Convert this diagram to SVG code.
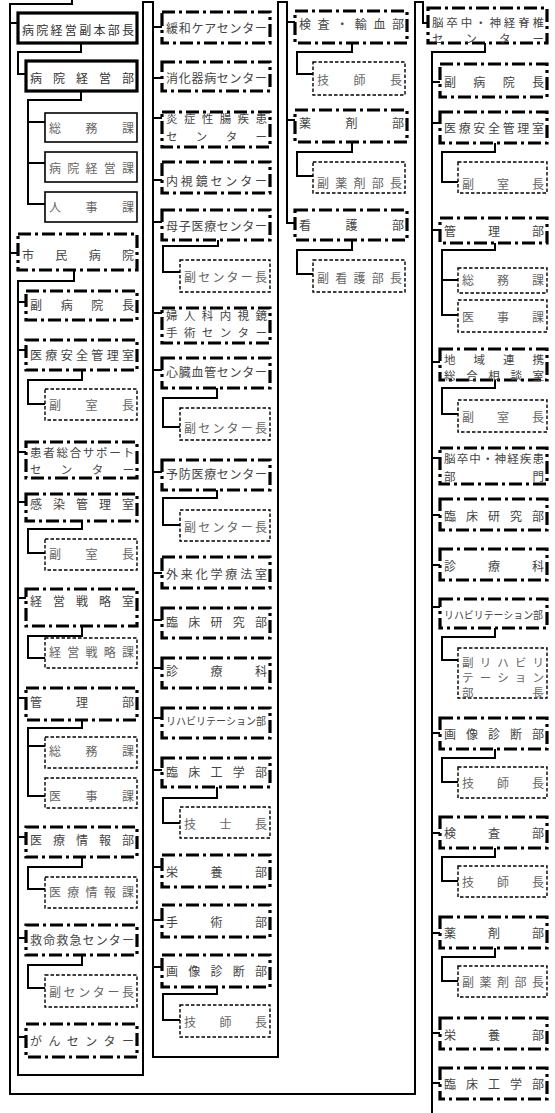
<svg xmlns="http://www.w3.org/2000/svg" width="555" height="1113" viewBox="0 0 555 1113">
<style>
.ln{fill:none;stroke:#000;stroke-width:2}
.tk{fill:#fff;stroke:#000;stroke-width:3.2}
.so{fill:#fff;stroke:#000;stroke-width:1.6}
.dd{fill:#fff;stroke:#000;stroke-width:3.2;stroke-dasharray:13 4 3 4}
.ds{fill:#fff;stroke:#000;stroke-width:1.4;stroke-dasharray:3.5 2}
text{font-family:"Noto Sans CJK JP","Noto Sans CJK SC",sans-serif;font-size:12px;fill:#444;dominant-baseline:central}
.sub text{fill:#666}
.nar{font-size:10.5px}
.ml{font-size:11.5px}
</style>
<rect width="555" height="1113" fill="#fff"/>
<g id="connectors" class="ln">
<path d="M72,0V4H10V1094H415V2H423V23H428"/>
<path d="M10,23H18M10,253H18"/>
<path d="M81,43V52H18V74H26"/>
<path d="M81,91V100H28V204H45M28,122H45M28,163H45"/>
<path d="M74,270V281H18V1075H143V2H153V1057H278V2H287V223H295"/>
<path d="M18,302H26M18,350H26M18,452H26M18,502H26M18,598H26M18,698H26M18,837H26M18,938H26M18,1037H26"/>
<path d="M82,370V380H28V404H45"/>
<path d="M82,521V529H28V553H45"/>
<path d="M82,626V636H28V658H45"/>
<path d="M82,720V728H28V796H45M28,746H45"/>
<path d="M82,857V867H28V889H45"/>
<path d="M82,955V965H28V988H45"/>
<path d="M153,27H162M153,78H162M153,118H162M153,180H162M153,222H162M153,313H162M153,370H162M153,472H162M153,573H162M153,620H162M153,668H162M153,718H162M153,770H162M153,867H162M153,920H162M153,967H162"/>
<path d="M218,240V246H163V272H180"/>
<path d="M217,388V398H163V427H180"/>
<path d="M217,490V498H163V525H180"/>
<path d="M217,787V798H163V823H180"/>
<path d="M217,987V994H163V1020H180"/>
<path d="M287,22H295M287,120H295"/>
<path d="M352,43V52H297V74H313"/>
<path d="M352,142V152H297V176H313"/>
<path d="M352,240V250H297V274H313"/>
<path d="M485,43V52H432V1113"/>
<path d="M432,82H440M432,123H440M432,230H440M432,362H440M432,458H440M432,515H440M432,565H440M432,607H440M432,733H440M432,833H440M432,933H440M432,1033H440M432,1083H440"/>
<path d="M495,143V152H442V182H458"/>
<path d="M495,243V250H442V315H458M442,280H458"/>
<path d="M495,380V388H442V414H458"/>
<path d="M495,628V637H442V660H458"/>
<path d="M495,749V758H442V782H458"/>
<path d="M495,848V857H442V881H458"/>
<path d="M495,948V957H442V981H458"/>
</g>

<g id="n1"><rect class="tk" x="18" y="13" width="119" height="30"/><text x="22" y="29" textLength="112" lengthAdjust="spacing" style="fill:#333">病院経営副本部長</text></g>
<g id="n2"><rect class="tk" x="26" y="61" width="111" height="30"/><text x="30" y="77" textLength="104" lengthAdjust="spacing" style="fill:#333">病院経営部</text></g>
<g id="n3" class="sub"><rect class="so" x="45" y="113" width="92" height="29"/><text x="49" y="127" textLength="85" lengthAdjust="spacing">総務課</text></g>
<g id="n4" class="sub"><rect class="so" x="45" y="152" width="92" height="30"/><text x="49" y="167" textLength="85" lengthAdjust="spacing">病院経営課</text></g>
<g id="n5" class="sub"><rect class="so" x="45" y="192" width="92" height="30"/><text x="49" y="206" textLength="85" lengthAdjust="spacing">人事課</text></g>
<g id="n6"><rect class="dd" x="18" y="234" width="119" height="36"/><text x="22" y="254" textLength="112" lengthAdjust="spacing">市民病院</text></g>
<g id="n7"><rect class="dd" x="26" y="291" width="111" height="29"/><text x="30" y="304" textLength="104" lengthAdjust="spacing">副病院長</text></g>
<g id="n8"><rect class="dd" x="26" y="340" width="111" height="30"/><text x="30" y="354" textLength="104" lengthAdjust="spacing">医療安全管理室</text></g>
<g id="n9" class="sub"><rect class="ds" x="45" y="389" width="92" height="31"/><text x="49" y="404" textLength="85" lengthAdjust="spacing">副室長</text></g>
<g id="n10"><rect class="dd" x="26" y="442" width="111" height="36"/><text class="ml" x="30" y="452" textLength="104" lengthAdjust="spacing">患者総合サポート</text><text class="ml" x="30" y="469" textLength="104" lengthAdjust="spacing">センター</text></g>
<g id="n11"><rect class="dd" x="26" y="494" width="111" height="27"/><text x="30" y="503" textLength="104" lengthAdjust="spacing">感染管理室</text></g>
<g id="n12" class="sub"><rect class="ds" x="45" y="539" width="92" height="31"/><text x="49" y="553" textLength="85" lengthAdjust="spacing">副室長</text></g>
<g id="n13"><rect class="dd" x="26" y="589" width="111" height="37"/><text x="30" y="600" textLength="104" lengthAdjust="spacing">経営戦略室</text></g>
<g id="n14" class="sub"><rect class="ds" x="45" y="638" width="92" height="30"/><text x="49" y="651" textLength="85" lengthAdjust="spacing">経営戦略課</text></g>
<g id="n15"><rect class="dd" x="26" y="688" width="111" height="32"/><text x="30" y="701" textLength="104" lengthAdjust="spacing">管理部</text></g>
<g id="n16" class="sub"><rect class="ds" x="45" y="737" width="92" height="31"/><text x="49" y="750" textLength="85" lengthAdjust="spacing">総務課</text></g>
<g id="n17" class="sub"><rect class="ds" x="45" y="778" width="92" height="30"/><text x="49" y="795" textLength="85" lengthAdjust="spacing">医事課</text></g>
<g id="n18"><rect class="dd" x="26" y="827" width="111" height="30"/><text x="30" y="839" textLength="104" lengthAdjust="spacing">医療情報部</text></g>
<g id="n19" class="sub"><rect class="ds" x="45" y="877" width="92" height="31"/><text x="49" y="891" textLength="85" lengthAdjust="spacing">医療情報課</text></g>
<g id="n20"><rect class="dd" x="26" y="925" width="111" height="30"/><text x="30" y="939" textLength="104" lengthAdjust="spacing">救命救急センター</text></g>
<g id="n21" class="sub"><rect class="ds" x="45" y="975" width="92" height="32"/><text x="49" y="991" textLength="85" lengthAdjust="spacing">副センター長</text></g>
<g id="n22"><rect class="dd" x="26" y="1024" width="111" height="33"/><text x="30" y="1040" textLength="104" lengthAdjust="spacing">がんセンター</text></g>

<g id="c1"><rect class="dd" x="162" y="12" width="108" height="31"/><text x="166" y="27" textLength="101" lengthAdjust="spacing">緩和ケアセンター</text></g>
<g id="c2"><rect class="dd" x="162" y="62" width="108" height="29"/><text x="166" y="77" textLength="101" lengthAdjust="spacing">消化器病センター</text></g>
<g id="c3"><rect class="dd" x="162" y="112" width="108" height="35"/><text class="ml" x="166" y="118" textLength="101" lengthAdjust="spacing">炎症性腸疾患</text><text class="ml" x="166" y="136" textLength="101" lengthAdjust="spacing">センター</text></g>
<g id="c4"><rect class="dd" x="162" y="162" width="108" height="31"/><text x="166" y="180" textLength="101" lengthAdjust="spacing">内視鏡センター</text></g>
<g id="c5"><rect class="dd" x="162" y="210" width="108" height="30"/><text x="166" y="225" textLength="101" lengthAdjust="spacing">母子医療センター</text></g>
<g id="c6" class="sub"><rect class="ds" x="180" y="260" width="90" height="32"/><text x="184" y="276" textLength="83" lengthAdjust="spacing">副センター長</text></g>
<g id="c7"><rect class="dd" x="162" y="308" width="108" height="35"/><text class="ml" x="166" y="315" textLength="101" lengthAdjust="spacing">婦人科内視鏡</text><text class="ml" x="166" y="332" textLength="101" lengthAdjust="spacing">手術センター</text></g>
<g id="c8"><rect class="dd" x="162" y="358" width="108" height="30"/><text x="166" y="371" textLength="101" lengthAdjust="spacing">心臓血管センター</text></g>
<g id="c9" class="sub"><rect class="ds" x="180" y="408" width="90" height="32"/><text x="184" y="427" textLength="83" lengthAdjust="spacing">副センター長</text></g>
<g id="c10"><rect class="dd" x="162" y="460" width="108" height="30"/><text x="166" y="473" textLength="101" lengthAdjust="spacing">予防医療センター</text></g>
<g id="c11" class="sub"><rect class="ds" x="180" y="510" width="90" height="31"/><text x="184" y="526" textLength="83" lengthAdjust="spacing">副センター長</text></g>
<g id="c12"><rect class="dd" x="162" y="557" width="108" height="31"/><text x="166" y="573" textLength="101" lengthAdjust="spacing">外来化学療法室</text></g>
<g id="c13"><rect class="dd" x="162" y="608" width="108" height="30"/><text x="166" y="621" textLength="101" lengthAdjust="spacing">臨床研究部</text></g>
<g id="c14"><rect class="dd" x="162" y="658" width="108" height="30"/><text x="166" y="670" textLength="101" lengthAdjust="spacing">診療科</text></g>
<g id="c15"><rect class="dd" x="162" y="708" width="108" height="30"/><text class="nar" x="166" y="720" textLength="100" lengthAdjust="spacingAndGlyphs">リハビリテーション部</text></g>
<g id="c16"><rect class="dd" x="162" y="758" width="108" height="29"/><text x="166" y="771" textLength="101" lengthAdjust="spacing">臨床工学部</text></g>
<g id="c17" class="sub"><rect class="ds" x="180" y="807" width="90" height="31"/><text x="184" y="823" textLength="83" lengthAdjust="spacing">技士長</text></g>
<g id="c18"><rect class="dd" x="162" y="855" width="108" height="32"/><text x="166" y="871" textLength="101" lengthAdjust="spacing">栄養部</text></g>
<g id="c19"><rect class="dd" x="162" y="905" width="108" height="32"/><text x="166" y="921" textLength="101" lengthAdjust="spacing">手術部</text></g>
<g id="c20"><rect class="dd" x="162" y="955" width="108" height="32"/><text x="166" y="970" textLength="101" lengthAdjust="spacing">画像診断部</text></g>
<g id="c21" class="sub"><rect class="ds" x="180" y="1005" width="90" height="32"/><text x="184" y="1021" textLength="83" lengthAdjust="spacing">技師長</text></g>

<g id="d1"><rect class="dd" x="295" y="11" width="112" height="32"/><text x="299" y="23" textLength="105" lengthAdjust="spacing">検査・輸血部</text></g>
<g id="d2" class="sub"><rect class="ds" x="313" y="62" width="92" height="33"/><text x="317" y="79" textLength="85" lengthAdjust="spacing">技師長</text></g>
<g id="d3"><rect class="dd" x="295" y="110" width="112" height="32"/><text x="299" y="122" textLength="105" lengthAdjust="spacing">薬剤部</text></g>
<g id="d4" class="sub"><rect class="ds" x="313" y="162" width="92" height="31"/><text x="317" y="182" textLength="85" lengthAdjust="spacing">副薬剤部長</text></g>
<g id="d5"><rect class="dd" x="295" y="210" width="112" height="30"/><text x="299" y="224" textLength="105" lengthAdjust="spacing">看護部</text></g>
<g id="d6" class="sub"><rect class="ds" x="313" y="260" width="92" height="32"/><text x="317" y="277" textLength="85" lengthAdjust="spacing">副看護部長</text></g>

<g id="e1"><rect class="dd" x="428" y="8" width="119" height="35"/><text class="ml" x="432" y="22" textLength="112" lengthAdjust="spacing">脳卒中・神経脊椎</text><text class="ml" x="432" y="38" textLength="112" lengthAdjust="spacing">センター</text></g>
<g id="e2"><rect class="dd" x="440" y="64" width="107" height="33"/><text x="444" y="81" textLength="100" lengthAdjust="spacing">副病院長</text></g>
<g id="e3"><rect class="dd" x="440" y="112" width="107" height="31"/><text x="444" y="127" textLength="100" lengthAdjust="spacing">医療安全管理室</text></g>
<g id="e4" class="sub"><rect class="ds" x="458" y="162" width="89" height="31"/><text x="462" y="183" textLength="82" lengthAdjust="spacing">副室長</text></g>
<g id="e5"><rect class="dd" x="440" y="218" width="107" height="25"/><text x="444" y="230" textLength="100" lengthAdjust="spacing">管理部</text></g>
<g id="e6" class="sub"><rect class="ds" x="458" y="268" width="89" height="25"/><text x="462" y="279" textLength="82" lengthAdjust="spacing">総務課</text></g>
<g id="e7" class="sub"><rect class="ds" x="458" y="300" width="89" height="32"/><text x="462" y="316" textLength="82" lengthAdjust="spacing">医事課</text></g>
<g id="e8"><rect class="dd" x="440" y="349" width="107" height="31"/><text class="ml" x="444" y="359" textLength="100" lengthAdjust="spacing">地域連携</text><text class="ml" x="444" y="375" textLength="100" lengthAdjust="spacing">総合相談室</text></g>
<g id="e9" class="sub"><rect class="ds" x="458" y="400" width="89" height="32"/><text x="462" y="416" textLength="82" lengthAdjust="spacing">副室長</text></g>
<g id="e10"><rect class="dd" x="440" y="448" width="107" height="36"/><text class="ml" x="444" y="458" textLength="100" lengthAdjust="spacing">脳卒中・神経疾患</text><text class="ml" x="444" y="476" textLength="100" lengthAdjust="spacing">部門</text></g>
<g id="e11"><rect class="dd" x="440" y="499" width="107" height="31"/><text x="444" y="515" textLength="100" lengthAdjust="spacing">臨床研究部</text></g>
<g id="e12"><rect class="dd" x="440" y="549" width="107" height="31"/><text x="444" y="565" textLength="100" lengthAdjust="spacing">診療科</text></g>
<g id="e13"><rect class="dd" x="440" y="599" width="107" height="29"/><text class="nar" x="444" y="614" textLength="99" lengthAdjust="spacingAndGlyphs">リハビリテーション部</text></g>
<g id="e14" class="sub"><rect class="ds" x="458" y="648" width="89" height="50"/><text class="ml" x="462" y="662" textLength="82" lengthAdjust="spacing">副リハビリ</text><text class="ml" x="462" y="677" textLength="82" lengthAdjust="spacing">テーション</text><text class="ml" x="462" y="692" textLength="82" lengthAdjust="spacing">部長</text></g>
<g id="e15"><rect class="dd" x="440" y="718" width="107" height="31"/><text x="444" y="733" textLength="100" lengthAdjust="spacing">画像診断部</text></g>
<g id="e16" class="sub"><rect class="ds" x="458" y="767" width="89" height="31"/><text x="462" y="782" textLength="82" lengthAdjust="spacing">技師長</text></g>
<g id="e17"><rect class="dd" x="440" y="817" width="107" height="31"/><text x="444" y="832" textLength="100" lengthAdjust="spacing">検査部</text></g>
<g id="e18" class="sub"><rect class="ds" x="458" y="866" width="89" height="31"/><text x="462" y="881" textLength="82" lengthAdjust="spacing">技師長</text></g>
<g id="e19"><rect class="dd" x="440" y="917" width="107" height="31"/><text x="444" y="932" textLength="100" lengthAdjust="spacing">薬剤部</text></g>
<g id="e20" class="sub"><rect class="ds" x="458" y="966" width="89" height="31"/><text x="462" y="981" textLength="82" lengthAdjust="spacing">副薬剤部長</text></g>
<g id="e21"><rect class="dd" x="440" y="1018" width="107" height="31"/><text x="444" y="1034" textLength="100" lengthAdjust="spacing">栄養部</text></g>
<g id="e22"><rect class="dd" x="440" y="1068" width="107" height="31"/><text x="444" y="1083" textLength="100" lengthAdjust="spacing">臨床工学部</text></g>
</svg>
